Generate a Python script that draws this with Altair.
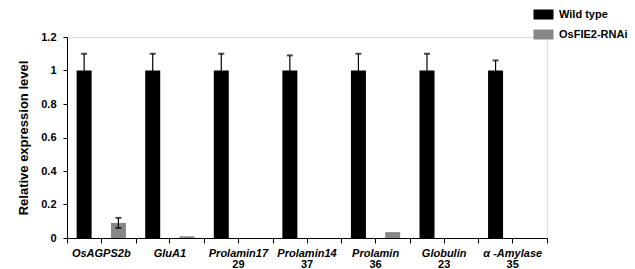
import altair as alt
import pandas as pd

genes = ["OsAGPS2b", "GluA1", "Prolamin17", "Prolamin14", "Prolamin", "Globulin", "α -Amylase"]
gene_numbers = ["", "", "29", "37", "36", "23", "35"]
series = ["Wild type", "OsFIE2-RNAi"]
wild_type = [1.0, 1.0, 1.0, 1.0, 1.0, 1.0, 1.0]
wild_type_err = [0.10, 0.10, 0.10, 0.09, 0.10, 0.10, 0.06]
rnai = [0.09, 0.01, 0.0, 0.0, 0.035, 0.0, 0.0]
rnai_err = [0.03, 0.0, 0.0, 0.0, 0.0, 0.0, 0.0]
y_ticks = [0, 0.2, 0.4, 0.6, 0.8, 1.0, 1.2]
colors = ["#000000", "#878787"]

rows = []
for i, g in enumerate(genes):
    for s, vals, errs in [(series[0], wild_type, wild_type_err), (series[1], rnai, rnai_err)]:
        v, e = vals[i], errs[i]
        rows.append({"gene": g, "series": s, "value": v, "err": e, "lo": v - e, "hi": v + e})
df = pd.DataFrame(rows)
num_df = pd.DataFrame({"gene": genes, "num": gene_numbers})

FONT = "Liberation Sans"

x_enc = alt.X("gene:N", sort=genes, title=None,
              scale=alt.Scale(paddingInner=0, paddingOuter=0),
              axis=alt.Axis(labelAngle=0, labelFontStyle="italic", labelFontWeight="bold",
                            labelFontSize=11, labelColor="black", labelFont=FONT,
                            domainColor="black", tickColor="black", tickSize=5,
                            labelPadding=4, orient="bottom", grid=False))
x_off = alt.XOffset("series:N", sort=series, scale=alt.Scale(paddingInner=0, paddingOuter=0))
y_scale = alt.Scale(domain=[0, 1.2], nice=False)
y_axis = alt.Axis(values=y_ticks, format="~g", tickCount=7,
                  grid=False, domainColor="black", tickColor="black", tickSize=4,
                  labelFontWeight="bold", labelFontSize=11, labelColor="black",
                  labelFont=FONT, labelPadding=7, labelOverlap=False,
                  title="Relative expression level",
                  titleFont=FONT, titleFontSize=13, titleFontWeight="bold",
                  titleColor="black", titlePadding=10)
x_plain = alt.X("gene:N", sort=genes, axis=None)

bars = alt.Chart(df).mark_bar(width=15).encode(
    x=x_enc, xOffset=x_off,
    y=alt.Y("value:Q", scale=y_scale, axis=y_axis, title="Relative expression level"),
    color=alt.Color("series:N", sort=series,
                    scale=alt.Scale(domain=series, range=colors),
                    legend=alt.Legend(title=None, orient="none", legendX=471, legendY=-28,
                                      symbolType="M-2,-1h4v2h-4z", symbolSize=100,
                                      symbolStrokeWidth=0, labelFont=FONT, labelFontSize=11,
                                      labelFontWeight="bold", labelColor="black",
                                      rowPadding=8, labelOffset=10, padding=0)),
)

has_err = alt.datum.err > 0
rules = alt.Chart(df).transform_filter(has_err).mark_rule(color="black", strokeWidth=1.2).encode(
    x=x_plain, xOffset=x_off,
    y=alt.Y("lo:Q", scale=y_scale, axis=y_axis, title="Relative expression level"), y2="hi:Q")
caps_hi = alt.Chart(df).transform_filter(has_err).mark_tick(
    color="black", size=6, thickness=2, orient="horizontal").encode(
    x=x_plain, xOffset=x_off,
    y=alt.Y("hi:Q", scale=y_scale, axis=y_axis, title="Relative expression level"))
caps_lo = alt.Chart(df).transform_filter(has_err).mark_tick(
    color="black", size=6, thickness=2, orient="horizontal").encode(
    x=x_plain, xOffset=x_off,
    y=alt.Y("lo:Q", scale=y_scale, axis=y_axis, title="Relative expression level"))

nums = alt.Chart(num_df).mark_text(font=FONT, fontSize=11, fontWeight="bold",
                                   color="black", baseline="alphabetic").encode(
    x=alt.X("gene:N", sort=genes,
            axis=alt.Axis(tickBand="extent", labels=False, domain=False, tickColor="black",
                          tickSize=5, title=None, orient="bottom", grid=False)),
    y=alt.value(231),
    text="num:N")

chart = alt.layer(bars, rules, caps_hi, caps_lo, nums).resolve_axis(x="independent").properties(
    width=480, height=201,
    autosize=alt.AutoSizeParams(type="none"),
    padding={"left": 59, "top": 29, "right": 80, "bottom": 40},
).configure_view(stroke=None).configure(font=FONT)

chart.save("out.html", embed_options={"renderer": "svg", "actions": False})
